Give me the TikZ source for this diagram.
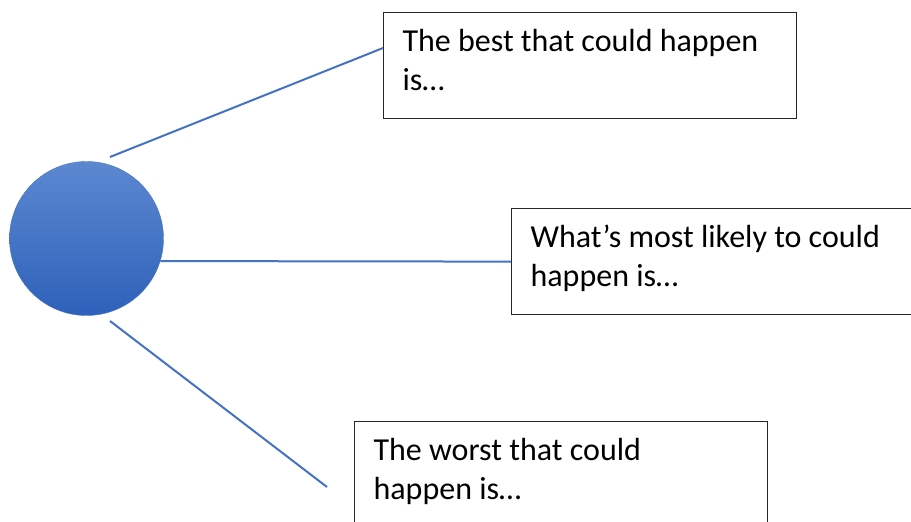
\documentclass[tikz,border=0pt]{standalone}
\usepackage{fontspec}
\setmainfont{Carlito}
\usepackage{tikz}

\definecolor{accent}{HTML}{4472C4}
\definecolor{balltop}{HTML}{5C88D0}
\definecolor{ballbot}{HTML}{2E61BA}

\begin{document}
\begin{tikzpicture}[x=1pt,y=-1pt
	,semithick
	,font=\fontsize{32}{39}\selectfont]
  \tikzstyle{ball}=[circle,minimum size=154pt,inner sep=0pt
    ,top color=balltop,bottom color=ballbot,draw=accent,thin]
  \tikzstyle{outcome}=[draw=black!85,line width=1.2pt,anchor=north west
    ,minimum width=413pt,minimum height=106pt,text width=375pt
    ,inner xsep=18pt,align=flush left,text depth=51pt]
  \tikzstyle{link}=[draw=accent,line width=2pt]

  \useasboundingbox (0,0) rectangle (911,522);

  % the circle
  \node[ball] (ball) at (86.5,238.5) {};
  % three outcomes
  \node[outcome] (best)   at (383,12)  {The best that could happen\\is\ldots};
  \node[outcome] (likely) at (511,208) {What’s most likely to could\\happen is\ldots};
  \node[outcome] (worst)  at (354,421) {The worst that could\\happen is\ldots};
  % free ends of the links
  \coordinate (bestfrom)  at (110,157);
  \coordinate (worstfrom) at (110,321);
  \coordinate (worstto)   at (327,487);

  \path [link] (bestfrom)  -- ([yshift=-36pt]best.north west);
  \path [link] (ball.-17)  -- (likely.west);
  \path [link] (worstfrom) -- (worstto);
\end{tikzpicture}
\end{document}
